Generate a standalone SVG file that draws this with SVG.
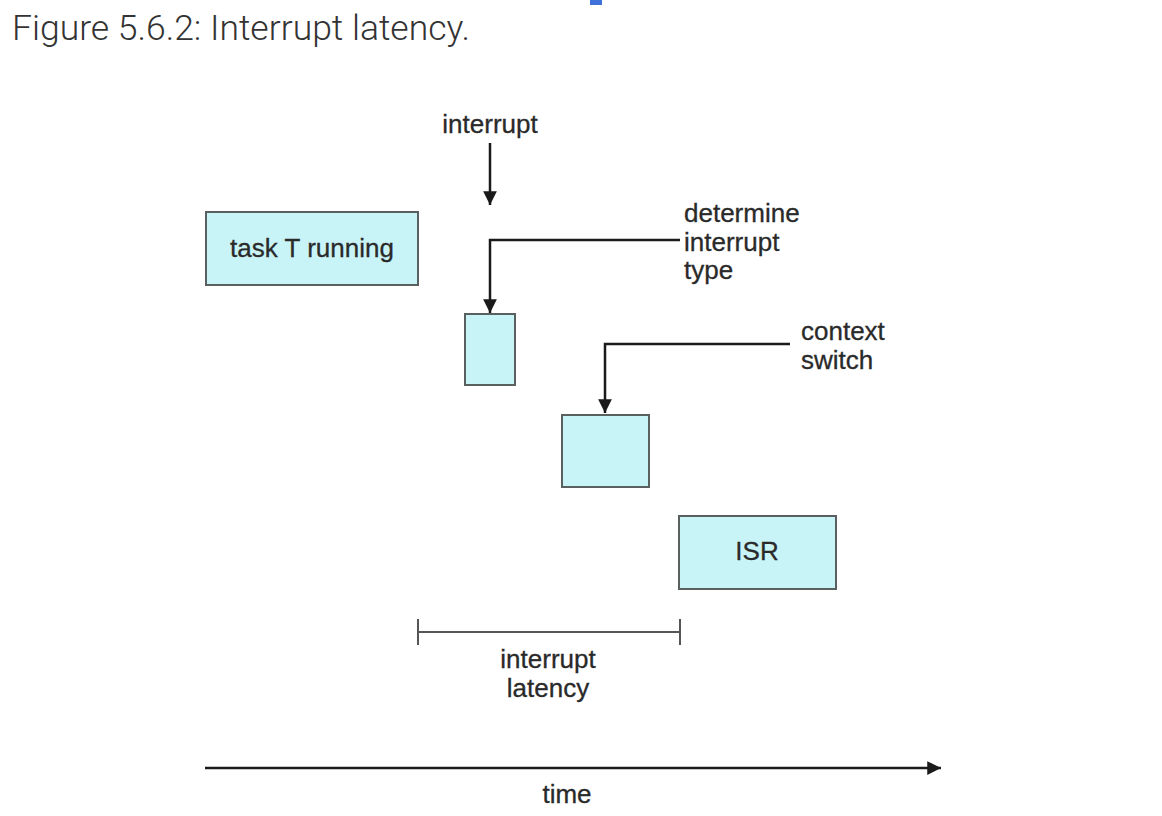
<svg xmlns="http://www.w3.org/2000/svg" width="1162" height="816" viewBox="0 0 1162 816">
<defs>
<style>
.box{fill:#c9f4f7;stroke:#5a5f60;stroke-width:2}
.lbl{font-family:"Liberation Sans",Arial,sans-serif;font-size:26px;fill:#2a2a2a;stroke:#2a2a2a;stroke-width:0.3}
.ln{fill:none;stroke:#1a1a1a;stroke-width:2.5}
.br{fill:none;stroke:#555;stroke-width:2}
</style>
<marker id="ah" viewBox="0 0 10 10" refX="10" refY="5" markerWidth="5.5" markerHeight="5.5" orient="auto" markerUnits="strokeWidth">
<path d="M0,0 L10,5 L0,10 z" fill="#1a1a1a"/>
</marker>
</defs>
<rect width="1162" height="816" fill="#ffffff"/>
<rect x="590" y="0" width="12" height="5" fill="#3f72d9"/>
<text x="12" y="40" font-family="Roboto,sans-serif" font-weight="300" font-size="35.5" fill="#333">Figure 5.6.2: Interrupt latency.</text>

<g id="task">
<rect class="box" x="206" y="212" width="212" height="73"/>
<text class="lbl" x="312" y="257" text-anchor="middle">task T running</text>
</g>
<g id="determine">
<rect class="box" x="465" y="314" width="50" height="71"/>
</g>
<g id="context">
<rect class="box" x="562" y="415" width="87" height="72"/>
</g>
<g id="isr">
<rect class="box" x="679" y="516" width="157" height="73"/>
<text class="lbl" x="757" y="560" text-anchor="middle">ISR</text>
</g>

<g id="labels">
<text class="lbl" x="490" y="133" text-anchor="middle">interrupt</text>
<text class="lbl" x="684" y="222">determine</text>
<text class="lbl" x="684" y="251">interrupt</text>
<text class="lbl" x="684" y="279">type</text>
<text class="lbl" x="801" y="340">context</text>
<text class="lbl" x="801" y="369">switch</text>
<text class="lbl" x="548" y="668" text-anchor="middle">interrupt</text>
<text class="lbl" x="548" y="697" text-anchor="middle">latency</text>
<text class="lbl" x="567" y="803" text-anchor="middle">time</text>
</g>

<g id="connectors">
<line class="ln" x1="490" y1="143" x2="490" y2="205" marker-end="url(#ah)"/>
<polyline class="ln" points="680,240 490,240 490,313" marker-end="url(#ah)"/>
<polyline class="ln" points="790,344 605,344 605,413" marker-end="url(#ah)"/>
<line class="br" x1="418" y1="632" x2="680" y2="632"/>
<line class="br" x1="418" y1="619" x2="418" y2="645"/>
<line class="br" x1="680" y1="619" x2="680" y2="645"/>
<line class="ln" x1="205" y1="768" x2="941" y2="768" stroke-width="3" marker-end="url(#ah)"/>
</g>
</svg>
